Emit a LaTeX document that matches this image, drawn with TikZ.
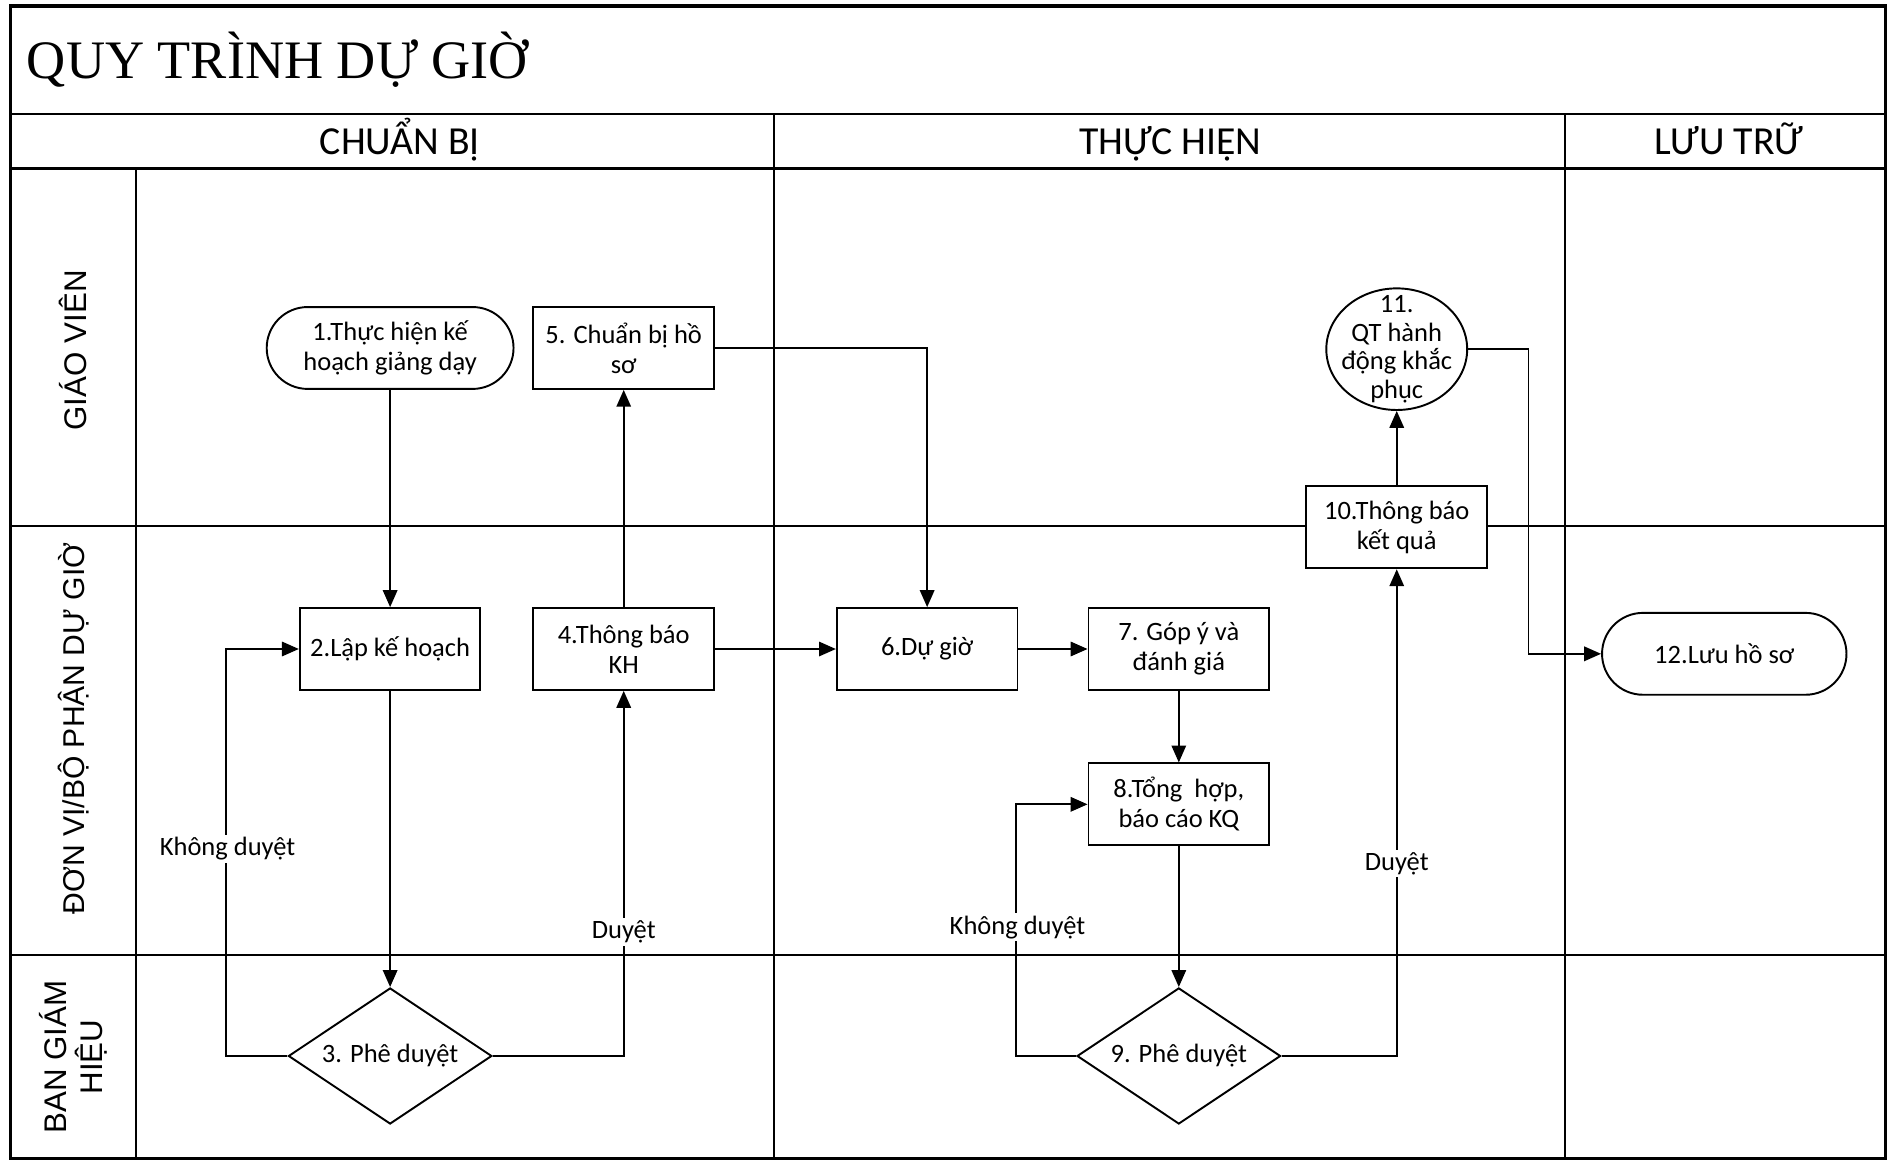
\documentclass[tikz,border=0pt]{standalone}
\usepackage{fontspec}
\setmainfont{Carlito}
\newfontfamily\titlefont{Liberation Serif}
\newfontfamily\lanefont{Liberation Sans}
\usetikzlibrary{shapes.geometric,arrows.meta}
\begin{document}
\begin{tikzpicture}[x=0.5pt,y=-0.5pt,
  gridline/.style={line width=0.9pt},
  frame/.style={line width=1.3pt},
  nodefont/.style={font=\fontsize{11}{12.5}\selectfont},
  box/.style={draw, line width=0.8pt, fill=white, minimum width=75pt, minimum height=34pt, inner sep=1pt, align=center, nodefont},
  term/.style={box, rounded corners=17pt, minimum width=102.5pt},
  dec/.style={draw, diamond, aspect=1.5, inner sep=0pt, minimum width=84.5pt, minimum height=56.5pt, fill=white, line width=0.8pt, nodefont},
  oval/.style={draw, ellipse, inner sep=0pt, minimum width=58.5pt, minimum height=50.5pt, fill=white, line width=0.8pt},
  plain/.style={inner sep=0pt, align=center, font=\fontsize{11}{12}\selectfont},
  arr/.style={line width=0.7pt, -{Triangle[length=7pt,width=6pt]}},
  lbl/.style={fill=white, inner sep=1pt, nodefont},
  head/.style={anchor=base, inner sep=0pt, font=\fontsize{16.5}{18}\selectfont},
  lane/.style={rotate=90, align=center, font=\lanefont\fontsize{13}{15}\selectfont}
]
\useasboundingbox (0,0) rectangle (1568,963);
\fill[white] (0,0) rectangle (1568,963);

% grid
\draw[gridline] (9,95) -- (1566,95);
\draw[gridline] (9,140) -- (1566,140);
\draw[gridline] (9,437) -- (1566,437);
\draw[gridline] (9,793) -- (1566,793);
\draw[gridline] (113,140) -- (113,962);
\draw[gridline] (643,95) -- (643,962);
\draw[gridline] (1300,95) -- (1300,962);
\draw[frame] (9,5) rectangle (1566,962);

% title and headers
\node[anchor=base west, inner sep=0pt, font=\titlefont\fontsize{22.5}{24}\selectfont] (title) at (22,65) {QUY TRÌNH DỰ GIỜ};
\node[head] (h1) at (332,128) {CHUẨN BỊ};
\node[head] (h2) at (972,128) {THỰC HIỆN};
\node[head] (h3) at (1436,128) {LƯU TRỮ};

% lanes
\node[lane] (l1) at (61,291) {GIÁO VIÊN};
\node[lane, font=\lanefont\fontsize{12.5}{15}\selectfont] (l2) at (61,605) {ĐƠN VỊ/BỘ PHẬN DỰ GIỜ};
\node[lane] (l3) at (61,878) {BAN GIÁM\\HIỆU};

% nodes
\node[term] (n1) at (324,289) {1.Thực hiện kế\\hoạch giảng dạy};
\node[box] (n5) at (518,289) {5. Chuẩn bị hồ\\sơ};
\node[box] (n2) at (324,539) {2.Lập kế hoạch};
\node[box] (n4) at (518,539) {4.Thông báo\\KH};
\node[dec] (n3) at (324,877) {3. Phê duyệt};
\node[box] (n6) at (770,539) {6.Dự giờ};
\node[box] (n7) at (979,539) {7. Góp ý và\\đánh giá};
\node[box] (n8) at (979,668) {8.Tổng\ \ hợp,\\báo cáo KQ};
\node[dec] (n9) at (979,877) {9. Phê duyệt};
\node[box] (n10) at (1160,438) {10.Thông báo\\kết quả};
\node[oval] (n11) at (1160,290) {};
\node[plain] (t11) at (1160,290) {11.\\QT hành\\động khắc\\phục};
\node[term, minimum width=101.5pt] (n12) at (1432,543) {12.Lưu hồ sơ};

% connectors
\draw[arr] (n1) -- (n2);
\draw[arr] (n2) -- (n3);
\draw[arr] (n3.west) -- ++(-51,0) |- (n2.west);
\draw[arr] (n3.east) -| (n4.south);
\draw[arr] (n4) -- (n5);
\draw[arr] (n5.east) -| (n6.north);
\draw[arr] (n4) -- (n6);
\draw[arr] (n6) -- (n7);
\draw[arr] (n7) -- (n8);
\draw[arr] (n8) -- (n9);
\draw[arr] (n9.west) -- ++(-50,0) |- (n8.west);
\draw[arr] (n9.east) -| (n10.south);
\draw[arr] (n10) -- (n11);
\draw[arr] (n11.east) -- ++(50,0) |- (n12.west);

% labels
\node[lbl] (k1) at (189,705) {Không duyệt};
\node[lbl] (d1) at (518,774) {Duyệt};
\node[lbl] (k2) at (845,770) {Không duyệt};
\node[lbl] (d2) at (1160,717) {Duyệt};
\end{tikzpicture}
\end{document}
